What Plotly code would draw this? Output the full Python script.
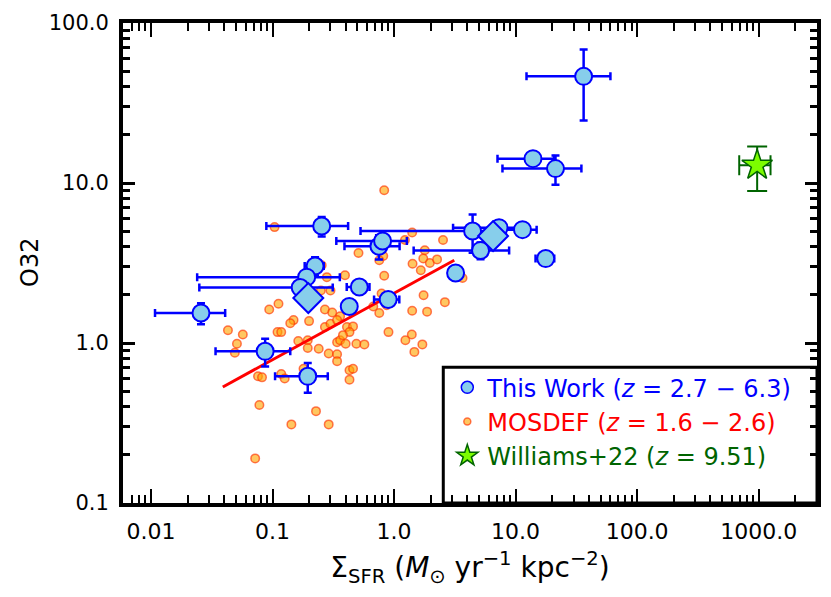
import plotly.graph_objects as go

# ---- This Work (z = 2.7 - 6.3) ----
tw_sfr = [0.0258, 0.087, 0.195, 0.254, 0.224, 0.191, 0.169, 0.518, 0.428, 0.895,
          0.751, 0.805, 4.43, 7.31, 11.4, 5.15, 17.7, 3.21, 13.9, 21.3, 36.3]
tw_o32 = [1.54, 0.887, 0.619, 5.38, 3.03, 2.58, 2.22, 2.24, 1.69, 1.87,
          4.02, 4.34, 5.01, 5.26, 5.11, 3.79, 3.37, 2.74, 14.2, 12.3, 46.4]
tw_sfr_err = [0.015, 0.053, 0.09, 0.165, 0.04, 0.167, 0.144, 0.11, 0.04, 0.21,
              0.36, 0.47, 3.9, 4.25, 3.5, 3.7, 3.1, 0.4, 6.8, 13.5, 24.0]
tw_o32_err = [0.23, 0.175, 0.13, 0.75, 0.4, 0.1, 0.1, 0.1, 0.08, 0.1,
              0.7, 0.2, 1.35, 0.3, 0.15, 0.45, 0.15, 0.12, 0.6, 2.55, 21.8]

# stacked values (diamonds)
stack_sfr = [0.197, 6.53]
stack_o32 = [1.91, 4.66]

# ---- MOSDEF (z = 1.6 - 2.6) ----
mos_sfr = [0.83, 0.104, 1.41, 1.23, 2.53, 0.51, 0.815, 1.79, 1.74, 1.42,
           1.97, 2.26, 1.66, 0.756, 0.254, 0.28, 0.395, 0.83, 3.66, 0.30,
           0.25, 1.75, 2.62, 0.79, 0.675, 0.756, 0.87, 0.094, 0.112, 0.27,
           0.31, 0.36, 1.41, 1.87, 0.20, 0.149, 0.14, 0.27, 0.30, 0.34,
           0.41, 0.46, 0.43, 0.043, 0.057, 0.11, 0.118, 0.90, 1.40, 1.24,
           1.71, 1.47, 0.051, 0.049, 0.163, 0.195, 0.195, 0.24, 0.29, 0.34,
           0.34, 0.36, 0.40, 0.49, 0.57, 0.38, 0.34, 0.076, 0.082, 0.118,
           0.126, 0.18, 0.43, 0.46, 0.43, 0.078, 0.228, 0.143, 0.29, 0.072]
mos_o32 = [9.0, 5.3, 4.9, 4.4, 4.4, 3.65, 3.5, 3.8, 3.37, 3.13,
           3.16, 3.33, 2.85, 3.29, 3.06, 2.58, 2.65, 2.63, 2.55, 2.13,
           2.13, 1.99, 1.80, 2.04, 1.69, 1.54, 1.72, 1.62, 1.76, 1.62,
           1.55, 1.47, 1.59, 1.57, 1.37, 1.39, 1.33, 1.26, 1.32, 1.39,
           1.26, 1.27, 1.17, 1.20, 1.13, 1.17, 1.17, 1.17, 1.13, 1.04,
           0.98, 0.88, 0.99, 0.87, 1.03, 1.04, 0.93, 0.92, 0.86, 0.85,
           1.01, 1.04, 0.99, 0.99, 0.98, 1.12, 0.77, 0.62, 0.61, 0.64,
           0.60, 0.69, 0.675, 0.69, 0.59, 0.41, 0.375, 0.31, 0.31, 0.19]

# MOSDEF fit line
fit_sfr = [0.039, 3.13]
fit_o32 = [0.531, 3.29]

# ---- Williams+22 (z = 9.51) ----
w22_sfr = [972.0]
w22_o32 = [12.9]
w22_sfr_err = [280.0]
w22_o32_err = [4.0]

FONT = "DejaVu Sans"

MOS_FILL = "rgba(255,165,0,0.62)"
MOS_EDGE = "rgba(255,50,0,0.65)"

fig = go.Figure()

fig.add_trace(go.Scatter(
    x=mos_sfr, y=mos_o32, mode="markers", showlegend=False,
    marker=dict(size=8.5, color=MOS_FILL, line=dict(color=MOS_EDGE, width=1.5)),
))

fig.add_trace(go.Scatter(
    x=fit_sfr, y=fit_o32, mode="lines", showlegend=False,
    line=dict(color="red", width=3),
))

fig.add_trace(go.Scatter(
    x=tw_sfr, y=tw_o32, mode="markers", showlegend=False,
    marker=dict(size=17, color="skyblue", line=dict(color="blue", width=2)),
    error_x=dict(type="data", array=tw_sfr_err, color="blue", thickness=2.5, width=4),
    error_y=dict(type="data", array=tw_o32_err, color="blue", thickness=2.5, width=4),
))

fig.add_trace(go.Scatter(
    x=stack_sfr, y=stack_o32, mode="markers", showlegend=False,
    marker=dict(symbol="diamond", size=23, color="skyblue",
                line=dict(color="blue", width=2)),
))

fig.add_trace(go.Scatter(
    x=w22_sfr, y=w22_o32, mode="markers", showlegend=False,
    marker=dict(symbol="star", size=23, color="lawngreen",
                line=dict(color="darkgreen", width=1.5)),
    error_x=dict(type="data", array=w22_sfr_err, color="darkgreen", thickness=2, width=10),
    error_y=dict(type="data", array=w22_o32_err, color="darkgreen", thickness=2, width=10),
))

# legend entries (legend-sized glyphs)
fig.add_trace(go.Scatter(
    x=[None], y=[None], mode="markers", legendgroup="a",
    name='<span style="color:blue">This Work (<i>z</i> = 2.7 − 6.3)</span>',
    marker=dict(size=12, color="skyblue", line=dict(color="blue", width=1.5)),
))
fig.add_trace(go.Scatter(
    x=[None], y=[None], mode="markers", legendgroup="b",
    name='<span style="color:red">MOSDEF (<i>z</i> = 1.6 − 2.6)</span>',
    marker=dict(size=7, color=MOS_FILL, line=dict(color=MOS_EDGE, width=1.5)),
))
fig.add_trace(go.Scatter(
    x=[None], y=[None], mode="markers", legendgroup="c",
    name='<span style="color:darkgreen">Williams+22 (<i>z</i> = 9.51)</span>',
    marker=dict(symbol="star", size=16, color="lawngreen",
                line=dict(color="darkgreen", width=1.5)),
))

axis_common = dict(
    type="log", showgrid=False, zeroline=False, automargin=False,
    showline=True, linecolor="black", linewidth=4, mirror="ticks",
    ticks="inside", tickcolor="black",
)

fig.update_xaxes(
    **axis_common,
    range=[-2.23, 3.48],
    tickvals=[0.01, 0.1, 1, 10, 100, 1000],
    ticktext=["0.01", "0.1", "1.0", "10.0", "100.0", "1000.0"],
    tickfont=dict(family=FONT, size=22, color="black"),
    ticklen=14, tickwidth=1.5, ticklabelstandoff=6,
    minor=dict(ticks="inside", ticklen=8, tickwidth=1.5, tickcolor="black", dtick="D1"),
    title=dict(text="Σ<sub>SFR</sub> (<i>M</i><sub>⊙</sub> yr<sup>−1</sup> kpc<sup>−2</sup>)",
               font=dict(family=FONT, size=28, color="black"), standoff=15),
)
fig.update_yaxes(
    **axis_common,
    range=[-1, 2],
    tickvals=[0.1, 1, 10, 100],
    ticktext=["0.1", "1.0", "10.0", "100.0"],
    tickfont=dict(family=FONT, size=21, color="black"),
    ticklen=12, tickwidth=3, ticklabelstandoff=6,
    minor=dict(ticks="inside", ticklen=7, tickwidth=3, tickcolor="black", dtick="D1"),
)

# y-axis label
fig.add_annotation(
    text="O32", textangle=-90, showarrow=False,
    xref="paper", yref="paper", x=0, y=0.5, xanchor="center", yanchor="middle",
    xshift=-93, font=dict(family=FONT, size=24, color="black"),
)

# legend frame
fig.add_shape(
    type="rect", xref="paper", yref="paper", layer="below",
    x0=0.4615, x1=1.0, y0=0.0, y1=0.283,
    line=dict(color="black", width=3), fillcolor="white",
)

fig.update_layout(
    width=823, height=589,
    margin=dict(l=115, r=14, t=15, b=94),
    paper_bgcolor="white", plot_bgcolor="white",
    font=dict(family=FONT, color="black"),
    showlegend=True,
    legend=dict(
        x=0.4673, y=0.287, xanchor="left", yanchor="top",
        bgcolor="rgba(0,0,0,0)", borderwidth=0,
        font=dict(family=FONT, size=24),
        traceorder="grouped", tracegroupgap=0,
        itemsizing="trace",
    ),
)

fig.write_html("out.html")
